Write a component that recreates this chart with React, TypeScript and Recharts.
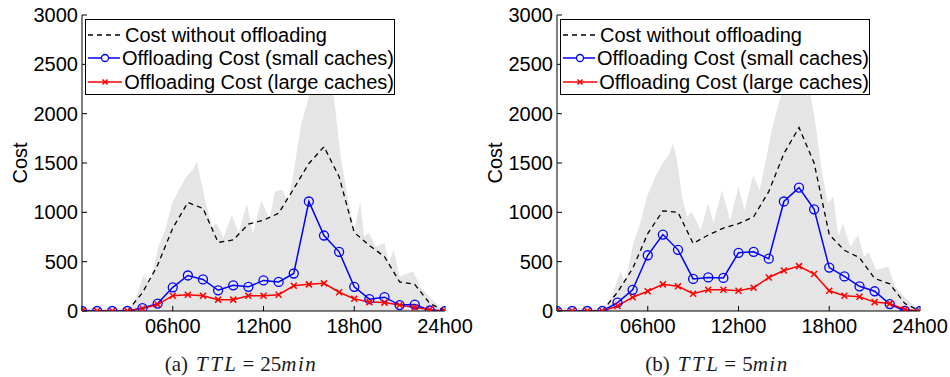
import React from "react";
import { ComposedChart, Area, Line, XAxis, YAxis, Legend, Label } from "recharts";

// hourly sampling points for the three cost curves
const hours = [0, 1, 2, 3, 4, 5, 6, 7, 8, 9, 10, 11, 12, 13, 14, 15, 16, 17, 18, 19, 20, 21, 22, 23, 24];

// (a) TTL = 25min
const noOffloadA = [0, 0, 0, 0, 185, 465, 840, 1100, 1040, 695, 720, 880, 920, 990, 1240, 1495, 1665, 1360, 795, 665, 550, 295, 270, 75, 0];
const smallCachesA = [0, 0, 0, 0, 30, 75, 240, 360, 320, 210, 260, 245, 310, 295, 380, 1110, 765, 600, 245, 120, 140, 60, 65, 5, 0];
const largeCachesA = [0, 0, 0, 0, 25, 65, 155, 165, 155, 115, 115, 155, 155, 165, 255, 270, 280, 190, 125, 90, 85, 60, 35, 15, 0];

// (b) TTL = 5min
const noOffloadB = [0, 0, 0, 0, 190, 430, 785, 1015, 1000, 685, 770, 840, 885, 955, 1210, 1595, 1860, 1500, 775, 615, 540, 330, 275, 75, 0];
const smallCachesB = [0, 0, 0, 0, 85, 215, 565, 775, 620, 325, 340, 335, 590, 600, 530, 1110, 1250, 1030, 440, 350, 250, 200, 70, 0, 0];
const largeCachesB = [0, 0, 0, 0, 50, 140, 200, 270, 250, 175, 215, 215, 205, 235, 340, 410, 455, 375, 205, 155, 145, 90, 75, 15, 0];

// grey background traffic, finer time resolution
const trafficHoursA = [0, 3.2, 3.6, 4.05, 4.5, 5.05, 5.5, 5.95, 6.4, 6.9, 7.3, 7.6, 7.9, 8.25, 8.6, 8.9, 9.35, 9.9, 10.35, 10.9, 11.3, 11.85, 12.4, 12.75, 13.25, 13.65, 14.0, 14.5, 15.0, 15.5, 16.0, 16.5, 16.75, 17.1, 17.6, 18.0, 18.4, 18.65, 19.0, 19.4, 20.0, 20.3, 20.6, 21.0, 21.5, 21.9, 22.35, 23.2, 24];
const trafficA = [30, 30, 150, 360, 280, 650, 820, 1090, 1225, 1360, 1430, 1515, 1295, 1057, 855, 890, 740, 975, 790, 1090, 790, 1120, 940, 1210, 1230, 1100, 1420, 1900, 2170, 2400, 2550, 2350, 2040, 1565, 1125, 820, 1110, 755, 790, 650, 690, 485, 620, 350, 380, 400, 245, 110, 0];

const trafficHoursB = [0, 3.2, 3.7, 4.2, 4.5, 5.05, 5.5, 5.95, 6.5, 7.05, 7.4, 7.67, 7.93, 8.26, 8.6, 8.9, 9.5, 10.0, 10.35, 10.9, 11.45, 12.0, 12.4, 12.98, 13.4, 13.86, 14.2, 14.6, 15.0, 15.5, 16.0, 16.5, 16.8, 17.06, 17.5, 17.9, 18.27, 18.6, 18.9, 19.4, 19.9, 20.3, 20.6, 21.1, 21.9, 22.35, 23.2, 24];
const trafficB = [30, 30, 180, 400, 285, 690, 890, 1160, 1360, 1515, 1580, 1700, 1530, 1160, 955, 1005, 820, 1095, 890, 1225, 920, 1260, 1020, 1380, 1225, 1565, 1835, 2070, 2300, 2500, 2650, 2400, 2150, 1935, 1430, 1095, 1160, 755, 890, 650, 770, 550, 600, 415, 450, 245, 110, 0];

const xTicks = [0, 6, 12, 18, 24];
const yTicks = [0, 500, 1000, 1500, 2000, 2500, 3000];

const FONT = "'Liberation Sans', Arial, Helvetica, sans-serif";
const SERIF = "'Liberation Serif', 'Times New Roman', serif";

const fmtHour = (h: number) => (h === 0 ? "" : `${String(h).padStart(2, "0")}h00`);

function CostLabel(props: any) {
  const vb = props.viewBox || { x: 12, y: 15, width: 70, height: 296 };
  const cx = vb.x + 8;
  const cy = vb.y + vb.height / 2;
  return (
    <text
      x={cx}
      y={cy}
      transform={`rotate(-90 ${cx} ${cy})`}
      textAnchor="middle"
      dominantBaseline="central"
      fontSize={20}
      fontFamily={FONT}
      fill="#000"
    >
      Cost
    </text>
  );
}

function CrossDot(props: any) {
  const { cx, cy, index } = props;
  if (cx == null || cy == null) return <g key={index} />;
  const s = 3;
  return (
    <path
      key={index}
      d={`M${cx - s},${cy - s}L${cx + s},${cy + s}M${cx - s},${cy + s}L${cx + s},${cy - s}`}
      stroke="#ff0000"
      strokeWidth={1.5}
      fill="none"
    />
  );
}

function LegendBox() {
  const row = { display: "flex", alignItems: "center", height: 23.5 } as const;
  const text = { marginLeft: 2, lineHeight: "20px", whiteSpace: "nowrap" } as const;
  return (
    <div
      style={{
        width: 310,
        height: 76,
        boxSizing: "border-box",
        border: "1.5px solid #000",
        background: "#fff",
        fontFamily: FONT,
        fontSize: 20,
        color: "#000",
        paddingTop: 3,
        paddingLeft: 1,
      }}
    >
      <div style={row}>
        <svg width={36} height={20}>
          <line x1={1} y1={10} x2={35} y2={10} stroke="#000" strokeWidth={1.3} strokeDasharray="5 4" />
        </svg>
        <span style={text}>Cost without offloading</span>
      </div>
      <div style={row}>
        <svg width={36} height={20}>
          <line x1={1} y1={10} x2={35} y2={10} stroke="#0000ff" strokeWidth={1.5} />
          <circle cx={18} cy={10} r={3.5} stroke="#0000ff" strokeWidth={1.3} fill="#fff" />
        </svg>
        <span style={text}>Offloading Cost (small caches)</span>
      </div>
      <div style={row}>
        <svg width={36} height={20}>
          <line x1={1} y1={10} x2={35} y2={10} stroke="#ff0000" strokeWidth={1.5} />
          <path d="M15.5,7.5L20.5,12.5M15.5,12.5L20.5,7.5" stroke="#ff0000" strokeWidth={1.5} />
        </svg>
        <span style={text}>Offloading Cost (large caches)</span>
      </div>
    </div>
  );
}

interface PanelProps {
  noOffload: number[];
  smallCaches: number[];
  largeCaches: number[];
  trafficHours: number[];
  traffic: number[];
}

function CostPanel({ noOffload, smallCaches, largeCaches, trafficHours, traffic }: PanelProps) {
  const costData = hours.map((h, i) => ({
    h,
    noOffload: noOffload[i],
    small: smallCaches[i],
    large: largeCaches[i],
  }));
  const trafficData = trafficHours.map((h, i) => ({ h, traffic: traffic[i] }));

  return (
    <ComposedChart width={475} height={377} margin={{ top: 15, right: 30, bottom: 36, left: 12 }}>
      <XAxis
        dataKey="h"
        type="number"
        domain={[0, 24]}
        ticks={xTicks}
        interval={0}
        tickFormatter={fmtHour}
        height={30}
        tickSize={-5}
        tickMargin={13}
        axisLine={{ stroke: "#000" }}
        tickLine={{ stroke: "#000" }}
        tick={{ fill: "#000", fontSize: 20, fontFamily: FONT }}
        allowDataOverflow
      />
      <XAxis
        xAxisId="top"
        orientation="top"
        type="number"
        domain={[0, 24]}
        ticks={xTicks}
        height={0}
        tick={false}
        tickSize={-5}
        axisLine={{ stroke: "#000" }}
        tickLine={{ stroke: "#000" }}
        allowDataOverflow
      />
      <YAxis
        type="number"
        domain={[0, 3000]}
        ticks={yTicks}
        interval={0}
        width={70}
        tickSize={-5}
        tickMargin={9}
        axisLine={{ stroke: "#000" }}
        tickLine={{ stroke: "#000" }}
        tick={{ fill: "#000", fontSize: 20, fontFamily: FONT }}
        allowDataOverflow
      >
        <Label content={CostLabel} />
      </YAxis>
      <YAxis
        yAxisId="right"
        orientation="right"
        type="number"
        domain={[0, 3000]}
        ticks={yTicks}
        width={0}
        tick={false}
        tickSize={-5}
        axisLine={{ stroke: "#000" }}
        tickLine={{ stroke: "#000" }}
        allowDataOverflow
      />
      <Area
        data={trafficData}
        dataKey="traffic"
        type="linear"
        fill="#e5e5e5"
        fillOpacity={1}
        stroke="none"
        isAnimationActive={false}
        legendType="none"
      />
      <Line
        data={costData}
        dataKey="noOffload"
        type="linear"
        stroke="#000"
        strokeWidth={1.3}
        strokeDasharray="5 4"
        dot={false}
        isAnimationActive={false}
      />
      <Line
        data={costData}
        dataKey="small"
        type="linear"
        stroke="#0000ff"
        strokeWidth={1.5}
        dot={{ r: 4.5, stroke: "#0000ff", strokeWidth: 1.3, fill: "none" }}
        isAnimationActive={false}
      />
      <Line
        data={costData}
        dataKey="large"
        type="linear"
        stroke="#ff0000"
        strokeWidth={1.5}
        dot={CrossDot}
        isAnimationActive={false}
      />
      <Legend
        layout="horizontal"
        verticalAlign="middle"
        align="center"
        content={<LegendBox />}
        wrapperStyle={{ left: 85, top: 19, width: 310, height: 76 }}
      />
    </ComposedChart>
  );
}

// LaTeX-like subfigure caption: "(a) TTL = 25min" with math italic variables
function Caption({ center, tag, ttl }: { center: number; tag: string; ttl: string }) {
  const serif = { fontFamily: SERIF } as const;
  return (
    <svg style={{ position: "absolute", left: center - 120, top: 345 }} width={240} height={32}>
      <text x={120} y={26} textAnchor="middle" fontFamily={SERIF} fontSize={21} fill="#1a1a1a">
        <tspan {...serif}>({tag})</tspan>
        <tspan {...serif} dx={8} fontStyle="italic" letterSpacing={2.5}>
          TTL
        </tspan>
        <tspan {...serif} dx={4}>=</tspan>
        <tspan {...serif} dx={6}>{ttl}</tspan>
        <tspan {...serif} fontStyle="italic" letterSpacing={1.5}>
          min
        </tspan>
      </text>
    </svg>
  );
}

export default function App() {
  return (
    <div style={{ position: "absolute", left: 0, top: 0, width: 950, height: 377, background: "#fff" }}>
      <div style={{ position: "absolute", left: 0, top: 0 }}>
        <CostPanel
          noOffload={noOffloadA}
          smallCaches={smallCachesA}
          largeCaches={largeCachesA}
          trafficHours={trafficHoursA}
          traffic={trafficA}
        />
      </div>
      <div style={{ position: "absolute", left: 475, top: 0 }}>
        <CostPanel
          noOffload={noOffloadB}
          smallCaches={smallCachesB}
          largeCaches={largeCachesB}
          trafficHours={trafficHoursB}
          traffic={trafficB}
        />
      </div>
      <Caption center={241} tag="a" ttl="25" />
      <Caption center={717} tag="b" ttl="5" />
    </div>
  );
}
